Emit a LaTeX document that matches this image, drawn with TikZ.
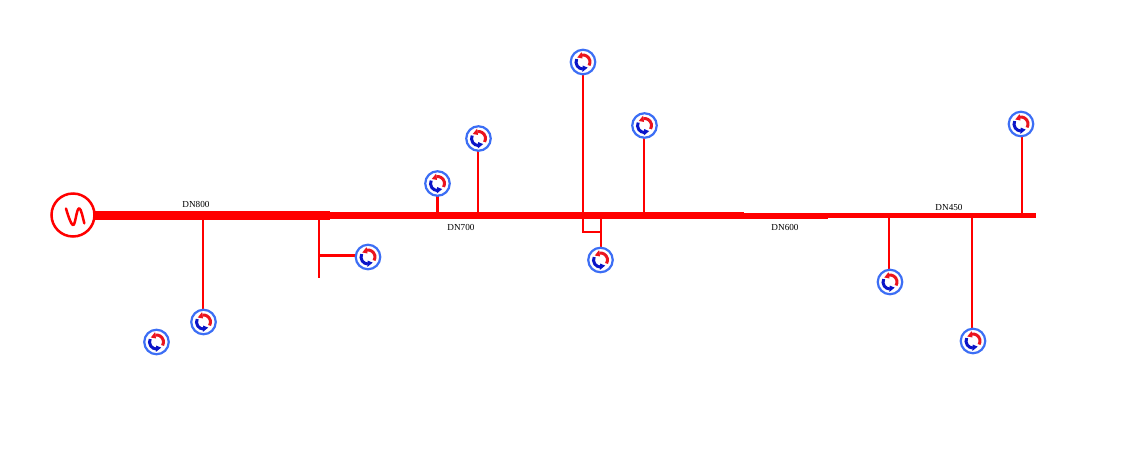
\documentclass[tikz,border=0pt]{standalone}
\usepackage{fontspec}
\setmainfont{Liberation Serif}
\definecolor{ringblue}{RGB}{60,110,245}
\definecolor{arrred}{RGB}{235,20,30}
\definecolor{arrblue}{RGB}{10,20,200}
\tikzset{
  x=1pt,y=-1pt,
  pipeA/.style={draw=red,line width=8.2pt},
  pipeB/.style={draw=red,line width=6.8pt},
  pipeC/.style={draw=red,line width=6pt},
  pipeD/.style={draw=red,line width=4.4pt},
  branch/.style={draw=red,line width=2.6pt},
  dn/.style={font=\fontsize{9.2}{10}\selectfont,inner sep=0pt},
  pumpring/.style={circle,draw=ringblue,line width=2.2pt,minimum size=24.5pt,inner sep=0pt,fill=white},
  genring/.style={circle,draw=red,line width=2.5pt,minimum size=43pt,inner sep=0pt,fill=white},
  pipejoint/.style={inner sep=0pt,minimum size=0pt},
  swirl/.style={line width=3pt},
}
\newcommand{\pumpat}[2]{%
  \node[pumpring] (#1) at #2 {};
  \begin{scope}[shift={(#1.center)},x=1pt,y=1pt]
    \draw[swirl,arrred] (-30:7) arc[start angle=-30,end angle=100,radius=7pt];
    \fill[arrred] (98:10) -- (98:3.6) -- (142:7.3) -- cycle;
    \draw[swirl,arrblue] (155:7) arc[start angle=155,end angle=268,radius=7pt];
    \fill[arrblue] (266:10) -- (266:3.6) -- (310:7.3) -- cycle;
  \end{scope}
}
\begin{document}
\begin{tikzpicture}
\useasboundingbox (0,0) rectangle (1123,464);
% main line junctions
\node[pipejoint] (s0) at (92,215.5) {};
\node[pipejoint] (s1) at (330,215.5) {};
\node[pipejoint] (s2) at (744,215.5) {};
\node[pipejoint] (s3) at (828,215.5) {};
\node[pipejoint] (s4) at (1036,215.5) {};
\node[pipejoint] (j1) at (203,215.5) {};
\node[pipejoint] (j2) at (319,215.5) {};
\node[pipejoint] (j3) at (437.5,215.5) {};
\node[pipejoint] (j4) at (478,215.5) {};
\node[pipejoint] (j5) at (583,215.5) {};
\node[pipejoint] (j6) at (601,215.5) {};
\node[pipejoint] (j7) at (644,215.5) {};
\node[pipejoint] (j8) at (889,215.5) {};
\node[pipejoint] (j9) at (972,215.5) {};
\node[pipejoint] (j10) at (1022,215.5) {};
\coordinate (e2) at (319,278);
\node[pipejoint] (t2) at (319,255.5) {};
\coordinate (k5) at (583,232);
\node[pipejoint] (k6) at (601,232) {};
% pipes
\draw[pipeA] (s0.center) -- (s1.center);
\draw[pipeB] (s1.center) -- (s2.center);
\draw[pipeC] (s2.center) -- (s3.center);
\draw[pipeD] (s3.center) -- (s4.center);
% branches
\draw[branch] (j1.center) -- (203,322);
\draw[branch] (j2.center) -- (e2);
\draw[branch] (t2.center) -- (368,255.5);
\draw[branch] (j3.center) -- (437.5,183);
\draw[branch] (j4.center) -- (478,138);
\draw[branch] (j5.center) -- (583,62);
\draw[branch] (j5.center) -- (k5) -- (k6.center);
\draw[branch] (j6.center) -- (601,260);
\draw[branch] (j7.center) -- (644,125);
\draw[branch] (j8.center) -- (889,282);
\draw[branch] (j9.center) -- (972,341);
\draw[branch] (j10.center) -- (1022,124);
% generator
\node[genring] (gen) at (73,215) {};
\draw[red,line width=2.5pt,line cap=round,line join=round] (66,208.5) .. controls (67,212) and (71,225.5) .. (73.3,225) .. controls (75.5,224.5) and (76.5,208) .. (79.3,208.3) .. controls (81,208.5) and (83,218) .. (84.3,223.3);
% pumps
\pumpat{p1}{(156.5,342)}
\pumpat{p2}{(203.5,322)}
\pumpat{p3}{(368,257)}
\pumpat{p4}{(437.5,183.5)}
\pumpat{p5}{(478.5,138.5)}
\pumpat{p6}{(583,62)}
\pumpat{p7}{(644.5,125.5)}
\pumpat{p8}{(600.5,260)}
\pumpat{p9}{(890,282)}
\pumpat{p10}{(973,341)}
\pumpat{p11}{(1021,124)}
% labels
\node[dn] (l800) at (196,204) {DN800};
\node[dn] (l700) at (461,227) {DN700};
\node[dn] (l600) at (785,227) {DN600};
\node[dn] (l450) at (949,207) {DN450};
\end{tikzpicture}
\end{document}
